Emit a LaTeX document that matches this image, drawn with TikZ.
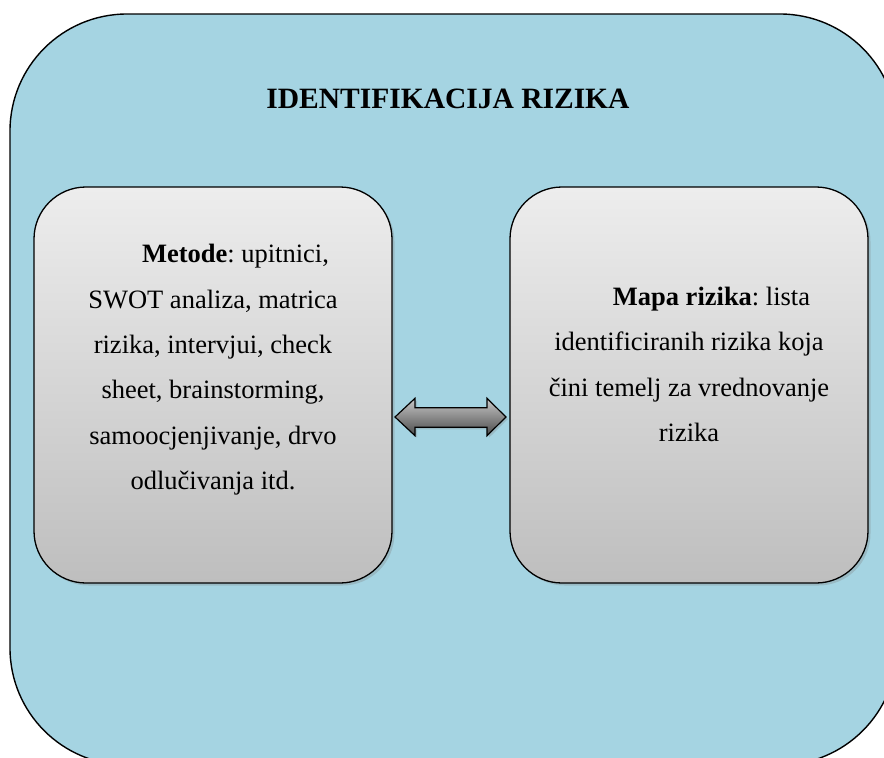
\documentclass[tikz,border=0pt]{standalone}
\usepackage{fontspec}
\setmainfont{Liberation Serif}
\usetikzlibrary{shadows}
\definecolor{bgblue}{RGB}{165,212,226}
\definecolor{boxtop}{RGB}{237,237,237}
\definecolor{boxbot}{RGB}{190,190,190}
\definecolor{arrtop}{RGB}{200,200,200}
\definecolor{arrbot}{RGB}{75,75,75}
\tikzset{
  outerbox/.style={draw=black, line width=1.4pt, fill=bgblue, rounded corners=117pt},
  graybox/.style={draw=black, line width=1.3pt, rounded corners=52pt,
    top color=boxtop, bottom color=boxbot,
    drop shadow={opacity=0.3, shadow xshift=2.5pt, shadow yshift=-2.5pt},
    minimum width=358pt, minimum height=396pt, inner sep=0pt},
  bodytext/.style={font=\fontsize{26.5}{45.4}\selectfont\frenchspacing, align=center, inner sep=0pt, anchor=north},
  titletext/.style={font=\fontsize{29.5}{35}\selectfont\bfseries, inner sep=0pt, anchor=base},
  blockarrow/.style={draw=black, line width=1.2pt, top color=arrtop, bottom color=arrbot,
    drop shadow={opacity=0.3, shadow xshift=2pt, shadow yshift=-2pt}}
}
\begin{document}
\begin{tikzpicture}[x=1pt,y=-1pt]
\useasboundingbox (0,0) rectangle (884,758);
\begin{scope}
\clip (0,0) rectangle (884,758);
\draw[outerbox] (10,14) rectangle (897,765);
\end{scope}
\node[titletext] (title) at (448,108) {IDENTIFIKACIJA RIZIKA};
\node[graybox] (L) at (213,385) {};
\node[graybox] (R) at (689,385) {};
\node[bodytext] (Lt) at (213,244.2) {\hspace*{45pt}\textbf{Metode}: upitnici,\\SWOT analiza, matrica\\rizika, intervjui, check\\sheet, brainstorming,\\samoocjenjivanje, drvo\\odlučivanja itd.};
\node[bodytext] (Rt) at (689,287) {\hspace*{45pt}\textbf{Mapa rizika}: lista\\identificiranih rizika koja\\čini temelj za vrednovanje\\rizika};
\draw[blockarrow] (395,417) -- (415,398.3) -- (415,407.7) -- (487,407.7) -- (487,398.3) -- (506,417) -- (487,435.7) -- (487,427.3) -- (415,427.3) -- (415,435.7) -- cycle;
\end{tikzpicture}
\end{document}
